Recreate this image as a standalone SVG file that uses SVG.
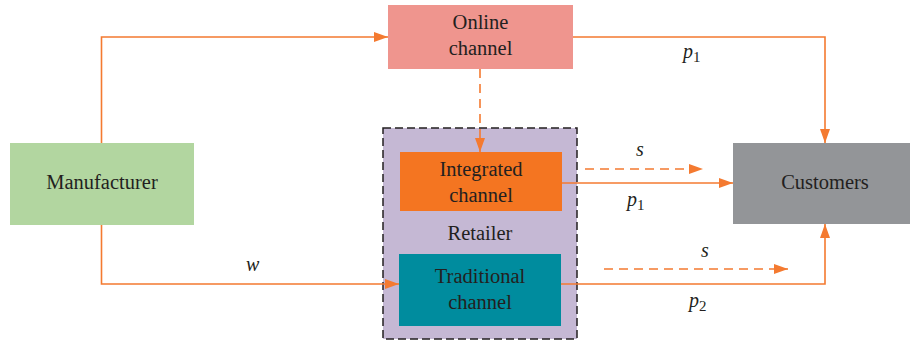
<svg xmlns="http://www.w3.org/2000/svg" width="910" height="345" viewBox="0 0 910 345">
<style>
.lbl{font-family:'Liberation Serif','DejaVu Serif',serif;font-size:20.5px;fill:#231F20;text-anchor:middle}
.var{font-family:'Liberation Serif','DejaVu Serif',serif;font-size:20px;fill:#231F20;font-style:italic}
.sub{font-style:normal;font-size:15px}
.ln{fill:none;stroke:#F47A30;stroke-width:1.6}
.dash{stroke-dasharray:9 6}
</style>
<defs>
<marker id="ah" markerUnits="userSpaceOnUse" markerWidth="14" markerHeight="10" refX="14" refY="5" orient="auto">
<path d="M0,0 L14,5 L0,10 z" fill="#F47A30"/>
</marker>
</defs>
<g id="retailer">
<rect x="383" y="128" width="194" height="211" fill="#C5B8D4" stroke="#231F20" stroke-width="1.5" stroke-dasharray="8 4"/>
<text class="lbl" x="480" y="240">Retailer</text>
</g>
<g id="online">
<rect x="388" y="5" width="185" height="64" fill="#EF958E"/>
<text class="lbl" x="480.5" y="29">Online</text>
<text class="lbl" x="480.5" y="55">channel</text>
</g>
<g id="integrated">
<rect x="400" y="152" width="162" height="59" fill="#F47521"/>
<text class="lbl" x="481" y="176">Integrated</text>
<text class="lbl" x="481" y="202">channel</text>
</g>
<g id="traditional">
<rect x="399" y="254" width="162" height="72" fill="#008C9E"/>
<text class="lbl" x="480" y="283">Traditional</text>
<text class="lbl" x="480" y="309">channel</text>
</g>
<g id="manufacturer">
<rect x="10" y="143" width="184" height="82" fill="#B2D6A0"/>
<text class="lbl" x="102" y="189">Manufacturer</text>
</g>
<g id="customers">
<rect x="733" y="143" width="177" height="81" fill="#939598"/>
<text class="lbl" x="825" y="189">Customers</text>
</g>
<g id="connectors">
<path class="ln" d="M101.5,143 V37 H388" marker-end="url(#ah)"/>
<path class="ln" d="M101.5,225 V284 H399" marker-end="url(#ah)"/>
<path class="ln" d="M573,37 H825 V143" marker-end="url(#ah)"/>
<path class="ln dash" d="M480,69 V152" marker-end="url(#ah)"/>
<path class="ln" d="M562,183 H733" marker-end="url(#ah)"/>
<path class="ln" d="M561,284 H825 V224" marker-end="url(#ah)"/>
<path class="ln dash" d="M585,169 H703" marker-end="url(#ah)"/>
<path class="ln dash" d="M604,269 H788" marker-end="url(#ah)"/>
<text class="var" x="683" y="58">p<tspan class="sub" dy="4">1</tspan></text>
<text class="var" x="627" y="206">p<tspan class="sub" dy="4">1</tspan></text>
<text class="var" x="689" y="307">p<tspan class="sub" dy="4">2</tspan></text>
<text class="var" x="636" y="156">s</text>
<text class="var" x="701" y="257">s</text>
<text class="var" x="246" y="271">w</text>
</g>
</svg>
